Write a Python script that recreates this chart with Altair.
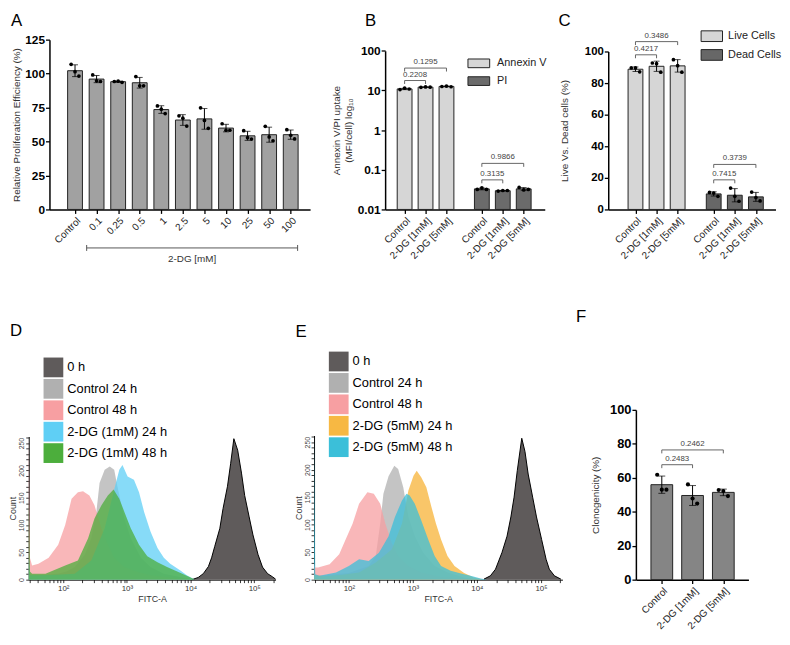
import altair as alt
import numpy as np
import pandas as pd

FONT = "Liberation Sans"

# ---------------- Panel A : proliferation ----------------
a_labels = ["Control", "0.1", "0.25", "0.5", "1", "2.5", "5", "10", "25", "50", "100"]
a_rep1 = [106.8, 99.0, 94.2, 97.8, 76.2, 68.9, 74.8, 63.1, 58.0, 61.2, 58.7]
a_rep2 = [101.4, 94.7, 94.4, 91.0, 73.8, 67.2, 65.5, 58.3, 52.8, 53.4, 54.6]
a_rep3 = [98.2, 94.2, 93.6, 91.0, 70.6, 61.4, 59.7, 58.3, 51.8, 50.5, 51.9]
a_group_text = "2-DG [mM]"

# ---------------- Panel B : Annexin V / PI ----------------
b_labels = ["Control", "2-DG [1mM]", "2-DG [5mM]"]
b_series = ["Annexin V", "PI"]
b_annexin = [[10.5, 11.4, 10.9], [12.0, 12.3, 12.1], [12.6, 12.9, 12.4]]
b_pi = [[0.032, 0.035, 0.032], [0.029, 0.030, 0.030], [0.036, 0.031, 0.032]]
b_p_text = ["0.2208", "0.1295", "0.3135", "0.9866"]
b_p_from = [0, 0, 3, 3]
b_p_to = [1, 2, 4, 5]
b_p_level = [17.8, 36.7, 0.0557, 0.145]

# ---------------- Panel C : live / dead ----------------
c_labels = ["Control", "2-DG [1mM]", "2-DG [5mM]"]
c_series = ["Live Cells", "Dead Cells"]
c_live = [[89.6, 89.6, 87.1], [92.7, 92.3, 86.9], [94.8, 91.0, 86.9]]
c_dead = [[10.8, 10.4, 8.3], [13.5, 8.3, 5.2], [11.0, 7.5, 5.4]]
c_p_text = ["0.4217", "0.3486", "0.7415", "0.3739"]
c_p_from = [0, 0, 3, 3]
c_p_to = [1, 2, 4, 5]
c_p_level = [97.9, 106.25, 18.75, 28.5]

# ---------------- Panel F : clonogenicity ----------------
f_labels = ["Control", "2-DG [1mM]", "2-DG [5mM]"]
f_reps = [[61.8, 53.0, 53.0], [56.1, 47.8, 44.8], [52.8, 52.2, 49.2]]
f_p_text = ["0.2483", "0.2462"]
f_p_from = [0, 0]
f_p_to = [1, 2]
f_p_level = [67.7, 76.4]

# ---------------- Panel D : flow histograms (log10 FITC-A, count) ----------------
d_names = ["0 h", "Control 24 h", "Control 48 h", "2-DG (1mM) 24 h", "2-DG (1mM) 48 h"]
d0_x = [4.02, 4.12, 4.2, 4.28, 4.33, 4.38, 4.46, 4.51, 4.58, 4.63, 4.68, 4.74, 4.80, 4.85, 4.92, 4.98, 5.06, 5.13, 5.21, 5.29, 5.335]
d0_y = [0, 4, 11, 24, 40, 61, 94, 130, 171, 213, 258, 237, 195, 154, 115, 82, 46, 23, 11, 5, 1]
d1_x = [1.457, 1.475, 1.6, 1.8, 1.92, 2.05, 2.18, 2.34, 2.44, 2.52, 2.57, 2.65, 2.73, 2.80, 2.85, 2.96, 3.06, 3.22, 3.37, 3.58, 3.84, 4.05]
d1_y = [20, 10, 8, 10, 11, 15, 23, 46, 76, 124, 177, 201, 207, 201, 171, 112, 76, 40, 23, 11, 5, 0]
d2_x = [1.457, 1.475, 1.51, 1.61, 1.77, 1.92, 2.03, 2.13, 2.23, 2.31, 2.41, 2.49, 2.6, 2.7, 2.8, 2.96, 3.17, 3.37, 3.68, 4.0]
d2_y = [262, 40, 26, 29, 40, 64, 100, 148, 160, 162, 154, 136, 94, 64, 40, 23, 14, 8, 4, 0]
d3_x = [1.457, 1.475, 1.6, 1.9, 2.18, 2.44, 2.65, 2.8, 2.88, 2.93, 3.01, 3.11, 3.19, 3.27, 3.37, 3.48, 3.58, 3.68, 3.84, 3.94, 4.05]
d3_y = [40, 8, 8, 9, 11, 35, 94, 165, 201, 210, 189, 183, 160, 124, 88, 58, 40, 29, 17, 8, 1]
d4_x = [1.457, 1.475, 1.51, 1.72, 2.03, 2.23, 2.39, 2.49, 2.6, 2.7, 2.79, 2.88, 2.96, 3.06, 3.19, 3.32, 3.48, 3.63, 3.79, 3.94, 4.05]
d4_y = [150, 15, 11, 11, 26, 35, 76, 112, 136, 154, 165, 148, 124, 94, 64, 43, 32, 23, 15, 7, 1]
d_colors = ["#5f5b5b", "#b0b0b0", "#f79fa2", "#5fcff5", "#4cae3c"]
d_opacity = [1.0, 0.75, 0.75, 0.75, 0.75]

# ---------------- Panel E : flow histograms ----------------
e_names = ["0 h", "Control 24 h", "Control 48 h", "2-DG (5mM) 24 h", "2-DG (5mM) 48 h"]
e0_x = [4.11, 4.21, 4.29, 4.34, 4.39, 4.47, 4.53, 4.58, 4.63, 4.70, 4.75, 4.80, 4.87, 4.93, 5.01, 5.08, 5.13, 5.21, 5.31]
e0_y = [1, 7, 19, 34, 49, 79, 114, 150, 198, 257, 233, 192, 150, 114, 73, 37, 19, 7, 1]
e1_x = [1.457, 1.475, 1.6, 2.0, 2.31, 2.42, 2.49, 2.54, 2.62, 2.71, 2.77, 2.85, 2.93, 3.03, 3.16, 3.34, 3.54, 3.8, 4.0]
e1_y = [12, 9, 8, 12, 25, 43, 102, 156, 188, 207, 201, 168, 114, 79, 49, 25, 13, 4, 0]
e2_x = [1.457, 1.475, 1.52, 1.7, 1.85, 1.95, 2.06, 2.16, 2.29, 2.39, 2.49, 2.57, 2.67, 2.77, 2.93, 3.13, 3.44, 3.85]
e2_y = [30, 22, 22, 28, 46, 73, 102, 138, 159, 156, 138, 102, 67, 43, 25, 13, 5, 1]
e3_x = [1.457, 1.6, 1.9, 2.16, 2.42, 2.67, 2.83, 2.93, 3.01, 3.06, 3.13, 3.21, 3.29, 3.36, 3.44, 3.54, 3.65, 3.80, 3.95, 4.06]
e3_y = [8, 6, 9, 13, 31, 55, 102, 162, 189, 198, 186, 168, 132, 102, 73, 43, 25, 12, 4, 1]
e4_x = [1.457, 1.475, 1.54, 1.8, 2.0, 2.16, 2.31, 2.47, 2.62, 2.72, 2.83, 2.90, 2.95, 3.03, 3.13, 3.24, 3.34, 3.44, 3.59, 3.75, 3.9, 4.06, 4.16]
e4_y = [262, 10, 7, 13, 25, 37, 34, 49, 79, 114, 144, 156, 153, 138, 108, 73, 43, 25, 16, 11, 7, 2, 0]
e_colors = ["#5f5b5b", "#b0b0b0", "#f79fa2", "#f7b843", "#3bbfd9"]
e_opacity = [1.0, 0.75, 0.75, 0.8, 0.75]


# =====================================================================
def js_list(items):
    return "[" + ",".join(repr(i) if not isinstance(i, str) else "'" + i + "'" for i in items) + "]"


def letter_layer(letter, dx, dy):
    return alt.Chart(pd.DataFrame({"t": [letter]})).mark_text(
        fontSize=17, font=FONT, align="left", baseline="top", color="black"
    ).encode(x=alt.value(dx), y=alt.value(dy), text="t:N")


def bar_panel(rows, positions, labels, xdom, yscale, yvals, ytitle, width, height,
              bar_size, bar_color, color_def, jit, dot_size, cap, brackets,
              title_pad, ylab_size, ylab_fmt=None):
    df = pd.DataFrame(rows)
    xs = alt.Scale(domain=xdom, nice=False, zero=False)
    xax = alt.Axis(values=positions,
                   labelExpr=f"{js_list(labels)}[indexof({js_list(positions)}, datum.value)]",
                   title=None, labelAngle=-45, labelAlign="right", labelBaseline="top",
                   labelFontSize=10, labelColor="#222", labelFont=FONT, tickSize=4,
                   tickWidth=1.3, tickColor="black", domainColor="black", domainWidth=1.5,
                   grid=False, labelPadding=2, labelOverlap=False, labelFlush=False)
    yargs = dict(values=yvals, title=ytitle, labelFontWeight="bold", labelFontSize=ylab_size,
                 labelColor="black", labelFont=FONT, titleFont=FONT, titleFontSize=10,
                 titleFontWeight="normal", titleColor="#333", tickSize=4, tickWidth=1.3,
                 tickColor="black", domainColor="black", domainWidth=1.5, grid=False,
                 labelPadding=1, titlePadding=title_pad, labelFlush=False)
    if ylab_fmt:
        yargs["format"] = ylab_fmt
    yax = alt.Axis(**yargs)
    base = alt.Chart(df)

    enc = dict(x=alt.X("pos:Q", scale=xs, axis=xax),
               y=alt.Y("mean(v):Q", scale=yscale, axis=yax))
    if yscale.type == "log":
        enc["y2"] = alt.datum(yscale.domain[0])
    if color_def is not None:
        bars = base.mark_bar(size=bar_size, stroke="#222", strokeWidth=1).encode(color=color_def, **enc)
    else:
        bars = base.mark_bar(size=bar_size, stroke="#222", strokeWidth=1, color=bar_color).encode(**enc)

    err = base.transform_aggregate(m="mean(v)", s="stdev(v)", groupby=["pos"]).transform_calculate(
        lo="datum.m - datum.s", hi="datum.m + datum.s")
    rule = err.mark_rule(color="black", strokeWidth=1).encode(
        x=alt.X("pos:Q", scale=xs, axis=xax), y=alt.Y("lo:Q", scale=yscale, axis=yax), y2="hi:Q")
    caps = err.transform_fold(["lo", "hi"], as_=["k", "yv"]).mark_tick(
        orient="horizontal", color="black", size=cap, thickness=1).encode(
        x=alt.X("pos:Q", scale=xs, axis=xax), y=alt.Y("yv:Q", scale=yscale, axis=yax))
    pts = base.transform_calculate(xp=f"datum.pos + datum.k * {jit}").mark_circle(
        size=dot_size, color="black", opacity=1).encode(
        x=alt.X("xp:Q", scale=xs, axis=xax), y=alt.Y("v:Q", scale=yscale, axis=yax))
    layers = [bars, rule, caps, pts]

    if brackets is not None:
        bdf = pd.DataFrame(brackets)
        hr = alt.Chart(bdf).mark_rule(color="#555", strokeWidth=0.9).encode(
            x=alt.X("x1:Q", scale=xs, axis=xax), x2="x2:Q", y=alt.Y("y:Q", scale=yscale, axis=yax))
        ends = alt.Chart(bdf).transform_fold(["x1", "x2"], as_=["k", "xe"]).mark_rule(
            color="#555", strokeWidth=0.9, y2Offset=3.5).encode(
            x=alt.X("xe:Q", scale=xs, axis=xax), y=alt.Y("y:Q", scale=yscale, axis=yax), y2="y:Q")
        txt = alt.Chart(bdf).transform_calculate(xm="(datum.x1 + datum.x2) / 2").mark_text(
            fontSize=8, font=FONT, color="#444", baseline="bottom", dy=-2).encode(
            x=alt.X("xm:Q", scale=xs, axis=xax), y=alt.Y("y:Q", scale=yscale, axis=yax), text="t:N")
        layers += [hr, ends, txt]
    return layers, xs, xax


def rep_rows(groups, positions, grp_names=None):
    rows = []
    for gi, (p, reps) in enumerate(zip(positions, groups)):
        for k, v in enumerate(reps):
            r = {"pos": p, "v": v, "k": k - 1}
            if grp_names is not None:
                r["grp"] = grp_names[gi]
            rows.append(r)
    return rows


def bracket_rows(pos, frm, to, level, text):
    return [{"x1": pos[a], "x2": pos[b], "y": y, "t": t} for a, b, y, t in zip(frm, to, level, text)]


TOP_LETTER_Y = -27

# ---------------- Chart A ----------------
a_pos = list(range(len(a_labels)))
a_groups = [[r1, r2, r3] for r1, r2, r3 in zip(a_rep1, a_rep2, a_rep3)]
a_layers, a_xs, a_xax = bar_panel(
    rep_rows(a_groups, a_pos), a_pos, a_labels, [-0.956, 10.67],
    alt.Scale(domain=[0, 125], nice=False, zero=True), [0, 25, 50, 75, 100, 125],
    "Relative Proliferation Efficiency (%)", 264, 172, 15, "#a1a1a1", None, 0.18, 14, 6,
    None, 3.5, 12)
a_br = pd.DataFrame({"x1": [0.54], "x2": [10.32], "t": [a_group_text]})
a_line = alt.Chart(a_br).mark_rule(color="#555", strokeWidth=1).encode(
    x=alt.X("x1:Q", scale=a_xs, axis=a_xax), x2="x2:Q", y=alt.value(211))
a_ends = alt.Chart(a_br).transform_fold(["x1", "x2"], as_=["k", "xe"]).mark_rule(
    color="#555", strokeWidth=1).encode(x=alt.X("xe:Q", scale=a_xs, axis=a_xax),
                                        y=alt.value(208), y2=alt.value(214))
a_txt = alt.Chart(a_br).transform_calculate(xm="(datum.x1 + datum.x2) / 2").mark_text(
    fontSize=10, font=FONT, color="#333", baseline="middle").encode(
    x=alt.X("xm:Q", scale=a_xs, axis=a_xax), y=alt.value(222), text="t:N")
chartA = alt.layer(*a_layers, a_line, a_ends, a_txt,
                   letter_layer("A", -39, TOP_LETTER_Y)).properties(width=264, height=172)

# ---------------- Chart B ----------------
b_pos = [0, 1, 2, 3.69, 4.69, 5.69]
b_groups = b_annexin + b_pi
b_grp = [b_series[0]] * 3 + [b_series[1]] * 3
b_color = alt.Color("grp:N", scale=alt.Scale(domain=b_series, range=["#d6d6d6", "#6b6b6b"]),
                    legend=alt.Legend(orient="none", legendX=83.4, legendY=12.5, title=None,
                                      symbolType="M-1,-0.4H1V0.4H-1Z", symbolSize=484,
                                      symbolStrokeColor="#222", symbolStrokeWidth=1, symbolOpacity=1,
                                      labelFontSize=11, labelFont=FONT, labelColor="#222",
                                      labelOffset=7, rowPadding=0, padding=0))
b_layers, _, _ = bar_panel(
    rep_rows(b_groups, b_pos, b_grp), b_pos, b_labels * 2, [-0.695, 6.46],
    alt.Scale(type="log", domain=[0.01, 100], range=[172, 11.3], nice=False),
    [0.01, 0.1, 1, 10, 100], ["Annexin V/PI uptake", "(MFI/cell) log\u2081\u2080"],
    161.7, 172, 15, None, b_color, 0.22, 14, 6,
    bracket_rows(b_pos, b_p_from, b_p_to, b_p_level, b_p_text), 4, 12, "~g")
chartB = alt.layer(*b_layers, letter_layer("B", -20.3, TOP_LETTER_Y)).properties(width=161.7, height=172)

# ---------------- Chart C ----------------
c_pos = [0, 1, 2, 3.71, 4.71, 5.71]
c_groups = c_live + c_dead
c_grp = [c_series[0]] * 3 + [c_series[1]] * 3
c_color = alt.Color("grp:N", scale=alt.Scale(domain=c_series, range=["#d6d6d6", "#676767"]),
                    legend=alt.Legend(orient="none", legendX=93.4, legendY=-15, title=None,
                                      symbolType="M-1,-0.5H1V0.5H-1Z", symbolSize=470,
                                      symbolStrokeColor="#222", symbolStrokeWidth=1, symbolOpacity=1,
                                      labelFontSize=11, labelFont=FONT, labelColor="#222",
                                      labelOffset=5, rowPadding=0, padding=0))
c_layers, _, _ = bar_panel(
    rep_rows(c_groups, c_pos, c_grp), c_pos, c_labels * 2, [-1.057, 6.405],
    alt.Scale(domain=[0, 100], range=[172, 12], nice=False, zero=True),
    [0, 20, 40, 60, 80, 100], "Live Vs. Dead cells (%)",
    169.4, 172, 15, None, c_color, 0.2, 14, 6,
    bracket_rows(c_pos, c_p_from, c_p_to, c_p_level, c_p_text), 15, 11.5)
chartC = alt.layer(*c_layers, letter_layer("C", -50.3, TOP_LETTER_Y)).properties(width=169.4, height=172)

# ---------------- Chart F ----------------
f_pos = [0, 1, 2]
f_layers, _, _ = bar_panel(
    rep_rows(f_reps, f_pos), f_pos, f_labels, [-0.682, 2.656],
    alt.Scale(domain=[0, 100], nice=False, zero=True), [0, 20, 40, 60, 80, 100],
    "Clonogenicity (%)", 114, 172, 22, "#858585", None, 0.15, 18, 7,
    bracket_rows(f_pos, f_p_from, f_p_to, f_p_level, f_p_text), 9, 13)
chartF = alt.layer(*f_layers, letter_layer("F", -60.7, -102)).properties(width=114, height=172)

# ---------------- Flow panels ----------------
FLOW_TICKS = []
for e in range(1, 6):
    for k in range(1, 10):
        lv = float(np.log10(k * 10.0 ** e))
        if 1.457 <= lv <= 5.335:
            FLOW_TICKS.append(round(lv, 4))
SUP = "datum.value == 2 ? '10\u00b2' : datum.value == 3 ? '10\u00b3' : datum.value == 4 ? '10\u2074' : datum.value == 5 ? '10\u2075' : ''"


def flow_panel(names, xs_list, ys_list, colors, opac, yrange, legend_xy, letter, letter_xy, width):
    rows = []
    for n, xl, yl in zip(names, xs_list, ys_list):
        for x, y in zip(xl, yl):
            rows.append({"s": n, "lx": x, "c": y})
    df = pd.DataFrame(rows)
    xsc = alt.Scale(domain=[1.457, 5.335], nice=False, zero=False)
    ysc = alt.Scale(domain=[0, 262], range=yrange, nice=False, zero=True)
    xax = alt.Axis(values=FLOW_TICKS, labelExpr=SUP, title="FITC-A", labelFont=FONT, titleFont=FONT,
                   labelFontSize=8, labelColor="#333", titleFontSize=9, titleFontWeight="normal",
                   titleColor="#333", titlePadding=2, labelPadding=2, tickSize=3, tickWidth=0.8,
                   tickColor="black", domainColor="black", domainWidth=1, grid=False,
                   labelOverlap=False, labelFlush=False)
    yax = alt.Axis(values=list(range(0, 261, 10)), labelExpr="datum.value % 50 == 0 ? datum.label : ''",
                   title="Count", labelFont=FONT, titleFont=FONT, labelFontSize=7, labelColor="#444",
                   labelAngle=270, labelAlign="center", labelBaseline="bottom", titleFontSize=9,
                   titleFontWeight="normal", titleColor="#333", titlePadding=0, labelPadding=1,
                   tickSize=3, tickWidth=0.8, tickColor="black", domainColor="black", domainWidth=1,
                   grid=False, labelOverlap=False, labelFlush=False)
    csc = alt.Scale(domain=names, range=colors)
    leg = alt.Legend(orient="none", legendX=legend_xy[0], legendY=legend_xy[1], title=None,
                     symbolType="square", symbolSize=400, symbolOpacity=1, symbolStrokeWidth=0,
                     labelFontSize=13, labelFont=FONT, labelColor="black", labelOffset=4,
                     rowPadding=1.7, padding=0)
    layers = []
    for i, (n, op) in enumerate(zip(names, opac)):
        layers.append(alt.Chart(df).transform_filter(alt.datum.s == n).mark_area(opacity=op).encode(
            x=alt.X("lx:Q", scale=xsc, axis=xax),
            y=alt.Y("c:Q", scale=ysc, axis=yax, stack=None),
            color=alt.Color("s:N", scale=csc, legend=leg)))
        if i == 0:
            layers.append(alt.Chart(df).transform_filter(alt.datum.s == n).mark_line(
                color="black", strokeWidth=1).encode(
                x=alt.X("lx:Q", scale=xsc, axis=xax), y=alt.Y("c:Q", scale=ysc, axis=yax)))
    layers.append(letter_layer(letter, *letter_xy))
    return alt.layer(*layers).properties(width=width, height=172)


chartD = flow_panel(d_names, [d0_x, d1_x, d2_x, d3_x, d4_x], [d0_y, d1_y, d2_y, d3_y, d4_y],
                    d_colors, d_opacity, [172, 27], (15, -53), "D", (-19, -88), 250)
chartE = flow_panel(e_names, [e0_x, e1_x, e2_x, e3_x, e4_x], [e0_y, e1_y, e2_y, e3_y, e4_y],
                    e_colors, e_opacity, [172, 26], (15, -59), "E", (-18.7, -87), 251.6)


def spacer(w):
    return alt.Chart(pd.DataFrame({"z": [0]})).mark_point(opacity=0).properties(width=w, height=172)


top = alt.hconcat(spacer(20.7), chartA, spacer(75.3), chartB, spacer(63.3), chartC,
                  spacing=0, bounds="flush").resolve_scale(color="independent")
bottom = alt.hconcat(chartD, spacer(38.4), chartE, spacer(73.4), chartF,
                     spacing=0, bounds="flush").resolve_scale(color="independent")

chart = alt.vconcat(top, bottom, spacing=375, bounds="flush").resolve_scale(
    color="independent").properties(padding=0).configure(font=FONT).configure_view(stroke=None)

chart.save("out.html", embed_options={"renderer": "svg", "actions": False})
